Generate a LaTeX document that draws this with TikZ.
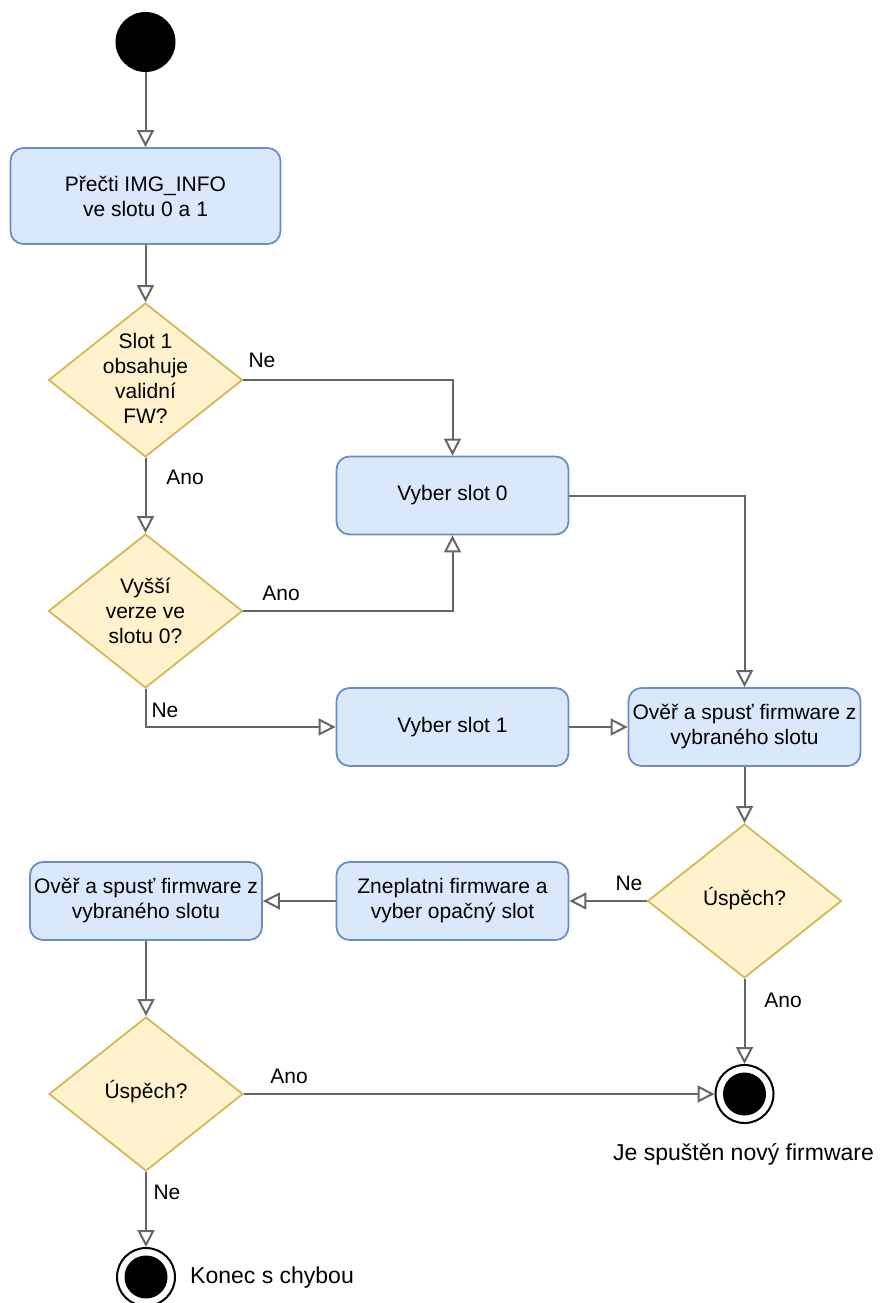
\documentclass[tikz,border=0pt]{standalone}
\usepackage{fontspec}
\setmainfont{Liberation Sans}
\usetikzlibrary{arrows.meta,shapes.geometric}
\definecolor{actfill}{HTML}{DAE8FC}
\definecolor{actdraw}{HTML}{6C8EBF}
\definecolor{decfill}{HTML}{FFF2CC}
\definecolor{decdraw}{HTML}{D6B656}
\definecolor{flow}{HTML}{666666}
\begin{document}
\begin{tikzpicture}[x=1pt,y=-1pt,
  every node/.style={font=\fontsize{21}{25}\selectfont},
  action/.style={draw=actdraw, fill=actfill, line width=1.8pt, rounded corners=13pt,
    minimum width=232pt, minimum height=78pt, align=center, inner sep=0pt},
  decision/.style={draw=decdraw, fill=decfill, line width=1.8pt, diamond,
    minimum width=194pt, minimum height=154pt, inner sep=0pt},
  dectext/.style={align=center, inner sep=0pt},
  startdot/.style={circle, fill=black, minimum size=60pt, inner sep=0pt},
  endring/.style={circle, draw=black, fill=white, line width=2pt, minimum size=58pt, inner sep=0pt},
  enddot/.style={circle, fill=black, minimum size=43pt, inner sep=0pt},
  lbl/.style={inner sep=0pt},
  endlbl/.style={inner sep=0pt, font=\fontsize{23}{27}\selectfont},
  flowline/.style={draw=flow, line width=2pt,
    -{Triangle[length=17pt, width=17pt, fill=white, line width=2pt]}},
]
\useasboundingbox (0,0) rectangle (880,1303);

% nodes
\node[startdot] (start) at (145.5,42) {};
\node[action, minimum width=270pt, minimum height=96pt] (read) at (145.5,196) {Přečti IMG\_INFO\\ve slotu 0 a 1};

\node[decision] (valid) at (145.5,380) {};
\node[dectext] (validt) at (145.5,378) {Slot 1\\obsahuje\\validní\\FW?};

\node[action] (slotA) at (452.5,495.5) {Vyber slot 0};

\node[decision] (newer) at (145.5,611) {};
\node[dectext] (newert) at (145.5,611) {Vyšší\\verze ve\\slotu 0?};

\node[action] (slotB) at (452.5,727) {Vyber slot 1};
\node[action] (boot) at (744.5,727) {Ověř a spusť firmware z\\vybraného slotu};

\node[decision] (okA) at (744.5,901) {};
\node[dectext] (okAt) at (744.5,899) {Úspěch?};

\node[action] (inval) at (452.5,901) {Zneplatni firmware a\\vyber opačný slot};
\node[action] (bootB) at (146,901) {Ověř a spusť firmware z\\vybraného slotu};

\node[decision] (okB) at (146,1094) {};
\node[dectext] (okBt) at (146,1092) {Úspěch?};

\node[endring] (done) at (744.5,1094) {};
\node[enddot] (donein) at (done) {};
\node[endlbl, anchor=base] (donet) at (743.5,1160) {Je spuštěn nový firmware};

\node[endring] (fail) at (146,1277) {};
\node[enddot] (failin) at (fail) {};
\node[endlbl, anchor=west] (failt) at (190,1278) {Konec s chybou};

% branch labels
\node[lbl] (l1) at (262,360) {Ne};
\node[lbl] (l2) at (185,477) {Ano};
\node[lbl] (l3) at (281,593) {Ano};
\node[lbl] (l4) at (165,710) {Ne};
\node[lbl] (l5) at (629,883) {Ne};
\node[lbl] (l6) at (783,1000) {Ano};
\node[lbl] (l7) at (289,1076) {Ano};
\node[lbl] (l8) at (167,1192) {Ne};

% connectors
\draw[flowline] (start) -- (read);
\draw[flowline] (read) -- (valid);
\draw[flowline] (valid.east) -| (slotA.north);
\draw[flowline] (valid) -- (newer);
\draw[flowline] (newer.east) -| (slotA.south);
\draw[flowline] (newer.south) |- (slotB.west);
\draw[flowline] (slotA.east) -| (boot.north);
\draw[flowline] (slotB) -- (boot);
\draw[flowline] (boot) -- (okA);
\draw[flowline] (okA.west) -- (inval.east);
\draw[flowline] (inval) -- (bootB);
\draw[flowline] (bootB) -- (okB);
\draw[flowline] (okA.south) -- (done.north);
\draw[flowline] (okB.east) -- (done.west);
\draw[flowline] (okB.south) -- (fail.north);
\end{tikzpicture}
\end{document}
